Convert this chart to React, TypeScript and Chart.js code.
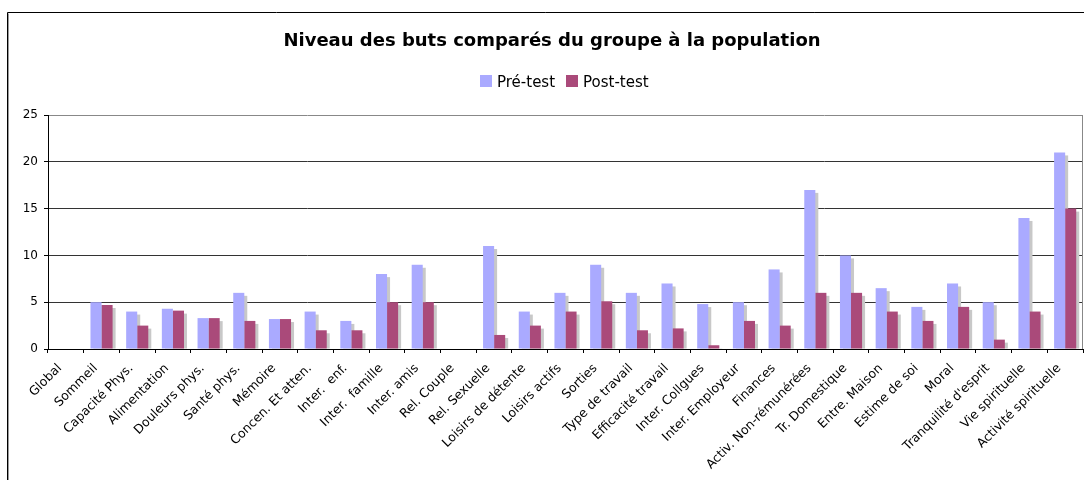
import React, { useEffect, useRef } from "react";
import { Chart, registerables } from "chart.js";

Chart.register(...registerables);

const titleText = "Niveau des buts comparés du groupe à la population";
const seriesNames = ["Pré-test", "Post-test"];
const categories = [
  "Global", "Sommeil", "Capacité Phys.", "Alimentation", "Douleurs phys.", "Santé phys.",
  "Mémoire", "Concen. Et atten.", "Inter.  enf.", "Inter.  famille", "Inter. amis",
  "Rel. Couple", "Rel. Sexuelle", "Loisirs de détente", "Loisirs actifs", "Sorties",
  "Type de travail", "Efficacité travail", "Inter. Collgues", "Inter. Employeur", "Finances",
  "Activ. Non-rémunérées", "Tr. Domestique", "Entre. Maison", "Estime de soi", "Moral",
  "Tranquilité d'esprit", "Vie spirituelle", "Activité spirituelle",
];
const preTest = [0, 5, 4, 4.3, 3.3, 6, 3.2, 4, 3, 8, 9, 0, 11, 4, 6, 9, 6, 7, 4.8, 5, 8.5, 17, 10, 6.5, 4.5, 7, 5, 14, 21];
const postTest = [0, 4.7, 2.5, 4.1, 3.3, 3, 3.2, 2, 2, 5, 5, 0, 1.5, 2.5, 4, 5.1, 2, 2.2, 0.4, 3, 2.5, 6, 6, 4, 3, 4.5, 1, 4, 15];
const yTicks = [0, 5, 10, 15, 20, 25];

const PRE_COLOR = "#AAAAFF";
const POST_COLOR = "#AA4A7A";
const SHADOW = "#C8C8C8";
const FONT = "'DejaVu Sans', Verdana, sans-serif";

const decorPlugin = {
  id: "decor",
  beforeDraw(chart: any) {
    const ctx = chart.ctx;
    ctx.save();
    ctx.fillStyle = "#ffffff";
    ctx.fillRect(0, 0, chart.width, chart.height);
    ctx.restore();
  },
  beforeDatasetsDraw(chart: any) {
    const ctx = chart.ctx;
    const area = chart.chartArea;
    ctx.save();
    ctx.beginPath();
    ctx.rect(area.left, area.top, area.right - area.left, area.bottom - area.top);
    ctx.clip();
    ctx.fillStyle = SHADOW;
    chart.data.datasets.forEach((ds: any, i: number) => {
      const meta = chart.getDatasetMeta(i);
      meta.data.forEach((bar: any, j: number) => {
        if (!ds.data[j]) return;
        const p = bar.getProps(["x", "y", "base", "width"], true);
        const left = p.x - p.width / 2 + 3;
        const top = p.y + 3;
        ctx.fillRect(left, top, p.width, p.base - top);
      });
    });
    ctx.restore();
  },
  afterDraw(chart: any) {
    const ctx = chart.ctx;
    const area = chart.chartArea;
    ctx.save();
    // outer frame
    ctx.strokeStyle = "#000";
    ctx.lineWidth = 1;
    ctx.beginPath();
    ctx.moveTo(7.5, chart.height);
    ctx.lineTo(7.5, 12.5);
    ctx.lineTo(chart.width, 12.5);
    ctx.stroke();
    ctx.strokeStyle = "#9a9a9a";
    ctx.beginPath();
    ctx.moveTo(8.5, chart.height);
    ctx.lineTo(8.5, 13.5);
    ctx.stroke();
    // plot area right border
    ctx.strokeStyle = "#888";
    ctx.beginPath();
    ctx.moveTo(area.right - 0.5, area.top);
    ctx.lineTo(area.right - 0.5, area.bottom);
    ctx.stroke();
    // title
    ctx.fillStyle = "#000";
    ctx.font = `bold 18px ${FONT}`;
    ctx.textAlign = "center";
    ctx.textBaseline = "alphabetic";
    ctx.fillText(titleText, 552, 46);
    // legend
    ctx.font = `15px ${FONT}`;
    ctx.textAlign = "left";
    const items = [
      { name: seriesNames[0], color: PRE_COLOR, x: 480 },
      { name: seriesNames[1], color: POST_COLOR, x: 566 },
    ];
    items.forEach((it) => {
      ctx.fillStyle = it.color;
      ctx.fillRect(it.x, 75, 12, 12);
      ctx.fillStyle = "#000";
      ctx.fillText(it.name, it.x + 17, 87);
    });
    ctx.restore();
  },
};

export default function App() {
  const ref = useRef<HTMLCanvasElement | null>(null);
  useEffect(() => {
    if (!ref.current) return;
    const chart = new Chart(ref.current, {
      type: "bar",
      data: {
        labels: categories,
        datasets: [
          { label: seriesNames[0], data: preTest, backgroundColor: PRE_COLOR, categoryPercentage: 0.62, barPercentage: 1 },
          { label: seriesNames[1], data: postTest, backgroundColor: POST_COLOR, categoryPercentage: 0.62, barPercentage: 1 },
        ],
      },
      options: {
        responsive: false,
        animation: false,
        layout: { padding: { top: 115, right: 1, left: 0, bottom: 0 } },
        plugins: {
          legend: { display: false },
          title: { display: false },
          tooltip: { enabled: false },
        },
        scales: {
          x: {
            grid: { display: true, offset: true, drawOnChartArea: false, drawTicks: true, tickLength: 4, tickColor: "#000" },
            border: { display: true, color: "#000", width: 1 },
            ticks: {
              autoSkip: false,
              minRotation: 45,
              maxRotation: 45,
              color: "#000",
              font: { family: FONT, size: 12.5 },
              padding: 8,
              labelOffset: -6,
            },
            afterFit(scale: any) {
              scale.height = 131;
            },
          },
          y: {
            min: 0,
            max: 25,
            afterBuildTicks(scale: any) {
              scale.ticks = yTicks.map((v) => ({ value: v }));
            },
            grid: {
              color: (c: any) => (c.tick && c.tick.value === 25 ? "#888888" : "#333333"),
              tickColor: "#000",
              tickLength: 4,
              drawTicks: true,
            },
            border: { display: true, color: "#000", width: 1 },
            ticks: {
              color: "#000",
              font: { family: FONT, size: 12 },
              padding: 6,
            },
            afterFit(scale: any) {
              scale.width = 48;
            },
          },
        },
      },
      plugins: [decorPlugin],
    });
    return () => chart.destroy();
  }, []);
  return (
    <div style={{ position: "absolute", left: 0, top: 0, width: 1084, height: 480 }}>
      <canvas ref={ref} width={1084} height={480} />
    </div>
  );
}
